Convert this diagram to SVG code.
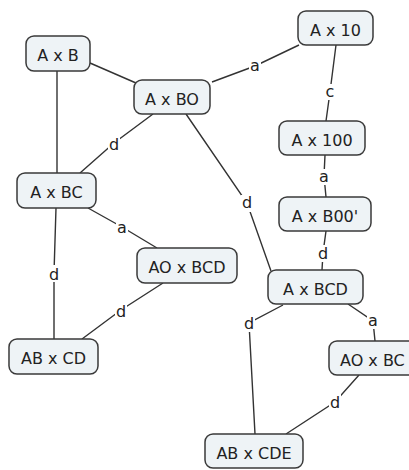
<svg xmlns="http://www.w3.org/2000/svg" width="409" height="470" viewBox="0 0 409 470">
<style>
.n rect{fill:#eef3f6;stroke:#3a3a3a;stroke-width:1.5}
.n text,.l text{font-family:"DejaVu Sans",Verdana,sans-serif;font-size:16px;fill:#222;text-anchor:middle}
.e path{fill:none;stroke:#333;stroke-width:1.4}
.l rect{fill:#fff}
</style>
<rect width="409" height="470" fill="#fff"/>
<g id="connectors" class="e">
<path d="M57,71 L57,173"/>
<path d="M90,63 L136,83"/>
<path d="M212,82 L255,66 L299,45"/>
<path d="M153,114 L114,143 L80,173"/>
<path d="M186,114 L247,203 L271,271"/>
<path d="M336,45 L330,92 L326,121"/>
<path d="M325,155 L324,176 L326,197"/>
<path d="M326,231 L323,253 L322,270"/>
<path d="M88,208 L122,227 L157,248"/>
<path d="M56,208 L54,273 L54,339"/>
<path d="M163,283 L121,310 L82,339"/>
<path d="M283,305 L249,323 L255,434"/>
<path d="M348,304 L373,321 L375,341"/>
<path d="M359,375 L335,402 L286,434"/>
</g>
<g id="labels" class="l">
<rect x="249" y="58" width="12" height="16"/><text x="255" y="71">a</text>
<rect x="108" y="135" width="12" height="17"/><text x="114" y="150">d</text>
<rect x="241" y="195" width="12" height="17"/><text x="247" y="208">d</text>
<rect x="324" y="84" width="12" height="16"/><text x="330" y="97">c</text>
<rect x="318" y="169" width="12" height="16"/><text x="324" y="182">a</text>
<rect x="317" y="245" width="12" height="17"/><text x="323" y="259">d</text>
<rect x="116" y="220" width="12" height="16"/><text x="122" y="233">a</text>
<rect x="48" y="265" width="12" height="17"/><text x="54" y="280">d</text>
<rect x="115" y="302" width="12" height="17"/><text x="121" y="317">d</text>
<rect x="243" y="315" width="12" height="17"/><text x="249" y="329">d</text>
<rect x="367" y="313" width="12" height="16"/><text x="373" y="326">a</text>
<rect x="329" y="394" width="12" height="17"/><text x="335" y="408">d</text>
</g>
<g id="n-AxB" class="n"><rect x="26" y="36" width="64" height="35" rx="8"/><text x="58" y="61">A x B</text></g>
<g id="n-AxBO" class="n"><rect x="134" y="80" width="76" height="34" rx="8"/><text x="172" y="105">A x BO</text></g>
<g id="n-AxBC" class="n"><rect x="17" y="173" width="79" height="35" rx="8"/><text x="56.5" y="198">A x BC</text></g>
<g id="n-Ax10" class="n"><rect x="298" y="11" width="75" height="34" rx="8"/><text x="335.5" y="36">A x 10</text></g>
<g id="n-Ax100" class="n"><rect x="279" y="121" width="86" height="34" rx="8"/><text x="322" y="146">A x 100</text></g>
<g id="n-AxB00" class="n"><rect x="279" y="197" width="92" height="34" rx="8"/><text x="325" y="222">A x B00'</text></g>
<g id="n-AOxBCD" class="n"><rect x="137" y="248" width="100" height="35" rx="8"/><text x="187" y="273">AO x BCD</text></g>
<g id="n-ABxCD" class="n"><rect x="9" y="339" width="89" height="35" rx="8"/><text x="53.5" y="364">AB x CD</text></g>
<g id="n-AxBCD" class="n"><rect x="268" y="270" width="95" height="34" rx="8"/><text x="315.5" y="295">A x BCD</text></g>
<g id="n-AOxBC" class="n"><rect x="329" y="341" width="100" height="34" rx="8"/><text x="340" y="366" style="text-anchor:start">AO x BC</text></g>
<g id="n-ABxCDE" class="n"><rect x="205" y="434" width="98" height="34" rx="8"/><text x="254" y="459">AB x CDE</text></g>
</svg>
